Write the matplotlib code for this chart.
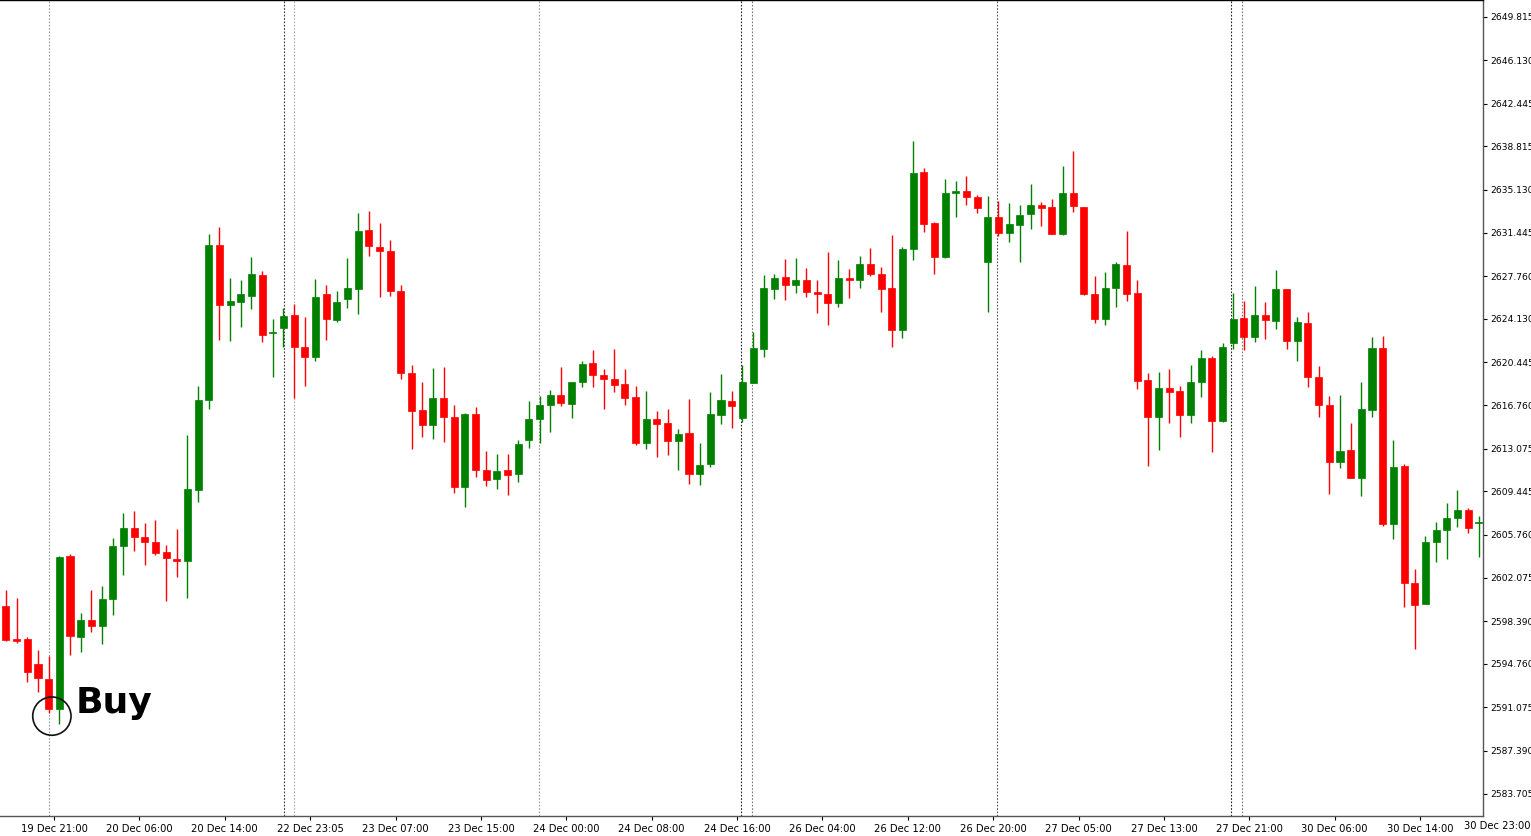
import numpy as np
import matplotlib.pyplot as plt

# OHLC, hourly bars
opens = [2599.69, 2596.80, 2596.88, 2594.75, 2593.48, 2590.92, 2603.94, 2597.05, 2598.50, 2597.99,
         2600.29, 2604.80, 2606.33, 2605.56, 2605.14, 2604.29, 2603.69, 2603.52, 2609.56, 2617.22,
         2630.41, 2625.30, 2625.56, 2626.07, 2627.86, 2622.92, 2623.35, 2624.45, 2621.73, 2620.88,
         2626.24, 2624.03, 2625.81, 2626.67, 2631.69, 2630.24, 2629.90, 2626.50, 2619.52, 2616.37,
         2615.09, 2617.39, 2615.77, 2609.82, 2616.03, 2611.26, 2610.50, 2611.26, 2610.92, 2613.82,
         2615.60, 2616.79, 2617.65, 2616.88, 2618.75, 2620.37, 2619.35, 2619.01, 2618.58, 2617.47,
         2613.56, 2615.60, 2615.26, 2613.73, 2614.41, 2610.92, 2611.77, 2615.94, 2617.13, 2615.69,
         2618.67, 2621.56, 2626.67, 2627.69, 2627.01, 2627.43, 2626.41, 2626.24, 2625.47, 2627.60,
         2627.43, 2628.79, 2627.94, 2626.75, 2623.18, 2630.07, 2636.62, 2632.28, 2629.39, 2634.84,
         2635.01, 2634.50, 2628.96, 2632.79, 2631.43, 2632.11, 2633.05, 2633.81, 2633.64, 2631.35,
         2634.84, 2633.64, 2626.24, 2624.11, 2626.75, 2628.71, 2626.33, 2618.92, 2615.77, 2618.24,
         2617.99, 2615.94, 2618.75, 2620.79, 2615.43, 2622.07, 2624.20, 2622.58, 2624.45, 2623.94,
         2626.67, 2622.24, 2623.77, 2619.18, 2616.79, 2611.94, 2612.96, 2610.58, 2616.37, 2621.64,
         2606.67, 2611.60, 2601.65, 2599.86, 2605.14, 2606.16, 2607.18, 2607.86, 2606.75]
highs = [2601.05, 2600.37, 2597.05, 2595.95, 2595.43, 2603.94, 2604.11, 2599.09, 2601.05, 2601.39,
         2605.48, 2607.60, 2607.77, 2606.75, 2607.01, 2604.88, 2606.24, 2614.24, 2618.41, 2631.35,
         2631.94, 2627.60, 2627.43, 2629.39, 2628.20, 2624.11, 2625.05, 2625.39, 2624.28, 2627.52,
         2627.01, 2626.50, 2629.30, 2633.13, 2633.30, 2632.28, 2630.84, 2627.01, 2620.20, 2618.75,
         2619.94, 2620.03, 2616.79, 2616.11, 2616.62, 2612.88, 2612.63, 2612.63, 2613.82, 2617.13,
         2617.56, 2618.07, 2620.03, 2618.75, 2620.54, 2621.47, 2619.86, 2621.56, 2619.86, 2618.41,
         2617.99, 2616.28, 2616.45, 2614.75, 2617.31, 2613.56, 2617.90, 2619.43, 2617.99, 2620.20,
         2623.01, 2627.86, 2627.94, 2629.22, 2629.30, 2628.45, 2627.43, 2629.81, 2629.13, 2628.37,
         2629.47, 2630.16, 2628.54, 2631.26, 2630.24, 2639.26, 2636.96, 2632.37, 2636.03, 2635.86,
         2636.28, 2634.67, 2634.58, 2634.16, 2633.99, 2633.81, 2635.60, 2634.07, 2634.33, 2637.13,
         2638.41, 2633.64, 2627.77, 2628.11, 2628.96, 2631.60, 2627.43, 2619.52, 2619.60, 2619.86,
         2618.41, 2620.20, 2621.47, 2620.96, 2622.07, 2626.33, 2625.64, 2626.92, 2625.56, 2628.28,
         2626.67, 2624.28, 2624.71, 2620.11, 2617.56, 2617.65, 2615.26, 2618.75, 2622.58, 2622.67,
         2613.82, 2611.77, 2602.84, 2605.65, 2606.84, 2608.46, 2609.56, 2608.03, 2607.35]
lows = [2596.71, 2596.54, 2593.22, 2592.37, 2590.57, 2589.65, 2595.52, 2595.77, 2597.48, 2596.46,
        2598.92, 2602.33, 2604.37, 2603.18, 2604.03, 2600.12, 2602.16, 2600.37, 2608.54, 2616.45,
        2622.33, 2622.24, 2623.43, 2624.96, 2622.16, 2619.18, 2621.73, 2617.39, 2618.41, 2620.54,
        2622.33, 2623.86, 2625.05, 2624.54, 2629.47, 2625.99, 2626.07, 2619.01, 2613.05, 2614.07,
        2613.90, 2613.65, 2609.30, 2608.11, 2610.67, 2609.90, 2609.65, 2609.13, 2610.24, 2613.14,
        2613.56, 2614.50, 2616.71, 2615.69, 2618.33, 2618.33, 2616.45, 2617.90, 2616.79, 2613.39,
        2613.05, 2612.37, 2612.54, 2611.26, 2610.07, 2609.99, 2611.52, 2615.18, 2614.84, 2615.35,
        2618.67, 2620.88, 2625.81, 2625.73, 2626.33, 2625.99, 2624.62, 2623.60, 2625.13, 2625.90,
        2626.75, 2627.77, 2624.71, 2621.73, 2622.50, 2629.13, 2631.52, 2627.94, 2629.30, 2632.79,
        2633.81, 2633.13, 2624.71, 2631.18, 2630.67, 2628.96, 2631.77, 2632.03, 2631.35, 2631.26,
        2633.22, 2626.16, 2623.77, 2623.60, 2625.13, 2625.64, 2618.16, 2611.60, 2612.96, 2615.26,
        2614.07, 2615.26, 2617.47, 2612.79, 2615.35, 2621.56, 2621.47, 2622.16, 2622.41, 2623.26,
        2621.56, 2620.54, 2618.33, 2615.77, 2609.22, 2611.43, 2610.58, 2609.05, 2615.77, 2606.50,
        2605.39, 2599.60, 2596.03, 2599.86, 2603.43, 2603.69, 2606.41, 2605.90, 2603.86]
closes = [2596.80, 2596.75, 2594.07, 2593.56, 2590.92, 2603.86, 2597.14, 2598.50, 2597.99, 2600.29,
          2604.80, 2606.33, 2605.56, 2605.14, 2604.20, 2603.77, 2603.52, 2609.65, 2617.22, 2630.41,
          2625.30, 2625.64, 2626.24, 2627.94, 2622.75, 2622.98, 2624.37, 2621.73, 2620.88, 2625.99,
          2624.11, 2625.56, 2626.75, 2631.60, 2630.33, 2629.90, 2626.50, 2619.52, 2616.28, 2615.09,
          2617.39, 2615.77, 2609.82, 2616.03, 2611.26, 2610.41, 2611.18, 2610.84, 2613.48, 2615.60,
          2616.79, 2617.65, 2616.96, 2618.75, 2620.28, 2619.35, 2619.01, 2618.50, 2617.39, 2613.56,
          2615.60, 2615.18, 2613.73, 2614.33, 2610.92, 2611.69, 2616.03, 2617.22, 2616.71, 2618.75,
          2621.64, 2626.75, 2627.60, 2627.01, 2627.43, 2626.41, 2626.24, 2625.47, 2627.60, 2627.43,
          2628.79, 2627.94, 2626.67, 2623.18, 2630.07, 2636.54, 2632.20, 2629.39, 2634.84, 2635.01,
          2634.50, 2633.56, 2632.79, 2631.43, 2632.20, 2632.96, 2633.81, 2633.56, 2631.35, 2634.84,
          2633.73, 2626.24, 2624.11, 2626.75, 2628.79, 2626.24, 2618.84, 2615.77, 2618.24, 2617.90,
          2615.94, 2618.75, 2620.79, 2615.43, 2621.73, 2624.11, 2622.58, 2624.45, 2624.03, 2626.67,
          2622.24, 2623.86, 2619.18, 2616.79, 2611.94, 2612.88, 2610.58, 2616.45, 2621.64, 2606.67,
          2611.52, 2601.65, 2599.77, 2605.14, 2606.16, 2607.18, 2607.86, 2606.33, 2606.80]

time_labels = ["19 Dec 21:00", "20 Dec 06:00", "20 Dec 14:00", "22 Dec 23:05", "23 Dec 07:00",
               "23 Dec 15:00", "24 Dec 00:00", "24 Dec 08:00", "24 Dec 16:00", "26 Dec 04:00",
               "26 Dec 12:00", "26 Dec 20:00", "27 Dec 05:00", "27 Dec 13:00", "27 Dec 21:00",
               "30 Dec 06:00", "30 Dec 14:00", "30 Dec 23:00"]
price_ticks = [2583.705, 2587.390, 2591.075, 2594.760, 2598.390, 2602.075, 2605.760, 2609.445,
               2613.075, 2616.760, 2620.445, 2624.130, 2627.760, 2631.445, 2635.130, 2638.815,
               2642.445, 2646.130, 2649.815]
separators = [4, 26.05, 27, 49.95, 68.9, 69.9, 92.9, 114.8, 115.8]
sep_colors = ["#999999", "#333333", "#aaaaaa", "#999999", "#222222", "#777777", "#555555", "#222222", "#777777"]
buy_bar = 5

fig = plt.figure(figsize=(15.31, 8.36), dpi=100)
ax = fig.add_axes([0, 1 - 816 / 836, 1483 / 1531, 816 / 836])

green, red = "#008000", "#ff0000"
for i, (o, h, l, c) in enumerate(zip(opens, highs, lows, closes)):
    col = green if c >= o else red
    ax.vlines(i, l, h, color=col, lw=1, zorder=2)
    lo, hi = min(o, c), max(o, c)
    ax.bar(i, max(hi - lo, 0.12), bottom=lo, width=0.66, color=col, edgecolor=col, lw=0.5, zorder=3)

for s, sc in zip(separators, sep_colors):
    ax.axvline(s, color=sc, lw=0.8, ls=(0, (1.5, 1.5)), zorder=1)

# Buy mark
ax.scatter([buy_bar - 0.7], [lows[buy_bar - 1] - 0.25], s=760, facecolors="none",
           edgecolors="#111111", lw=1.2, zorder=4)
ax.text(buy_bar + 1.5, 2591.4, "Buy", fontsize=26, fontweight="bold", va="center", ha="left")

ax.set_xticks([4 + 8 * k + 0.5 for k in range(len(time_labels) - 1)])
ax.set_xticklabels(time_labels[:-1], fontsize=7.2)
ax.tick_params(axis="x", length=3, pad=3)
# last label sits past the price scale, at the window edge
fig.text(1530 / 1531, 1 - 826 / 836, time_labels[-1], fontsize=7.2, ha="right", va="center")
ax.yaxis.tick_right()
ax.set_yticks(price_ticks)
ax.set_yticklabels([f"{p:.3f}" for p in price_ticks], fontsize=6.6)
ax.tick_params(axis="y", length=3, pad=2)
ax.set_xlim(-0.56, 138.4)
ax.set_ylim(2581.82, 2651.26)
for sp in ax.spines.values():
    sp.set_color("#555555")
    sp.set_linewidth(1)
ax.spines["left"].set_visible(False)
ax.spines["top"].set_color("black")

fig.savefig("out.png", dpi=100)
